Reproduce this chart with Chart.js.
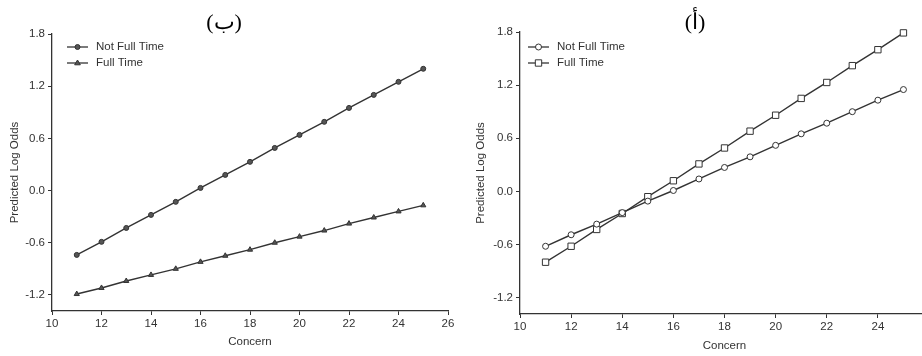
<!DOCTYPE html>
<html>
<head>
<meta charset="utf-8">
<script src="https://cdn.jsdelivr.net/npm/chart.js@4.4.0/dist/chart.umd.min.js"></script>
<style>
    html, body { margin: 0; padding: 0; background: #fff; overflow: hidden; width: 922px; height: 356px; }
    .panel { position: absolute; top: 0; height: 356px; }
    #leftPanel { left: 0; width: 461px; }
    #rightPanel { left: 461px; width: 496px; }
</style>
</head>
<body>
<div class="panel" id="leftPanel"><canvas id="leftChart"></canvas></div>
<div class="panel" id="rightPanel"><canvas id="rightChart"></canvas></div>

<script>
// concern values on the x axis
var concern = [11, 12, 13, 14, 15, 16, 17, 18, 19, 20, 21, 22, 23, 24, 25];

// panel (ب) - left
var leftNotFull = [-0.74, -0.59, -0.43, -0.28, -0.13, 0.03, 0.18, 0.33, 0.49, 0.64, 0.79, 0.95, 1.10, 1.25, 1.40];
var leftFull = [-1.19, -1.12, -1.04, -0.97, -0.90, -0.82, -0.75, -0.68, -0.60, -0.53, -0.46, -0.38, -0.31, -0.24, -0.17];

// panel (أ) - right
var rightNotFull = [-0.62, -0.49, -0.37, -0.24, -0.11, 0.01, 0.14, 0.27, 0.39, 0.52, 0.65, 0.77, 0.90, 1.03, 1.15];
var rightFull = [-0.80, -0.62, -0.43, -0.25, -0.06, 0.12, 0.31, 0.49, 0.68, 0.86, 1.05, 1.23, 1.42, 1.60, 1.79];

var seriesNames = ["Not Full Time", "Full Time"];
var xTicks = [10, 12, 14, 16, 18, 20, 22, 24, 26];
var yTicks = [-1.2, -0.6, 0.0, 0.6, 1.2, 1.8];

var ink = "#333";
var textColor = "#333";
var sans = "'Liberation Sans', Arial, sans-serif";

function toPoints(values) {
    var pts = [];
    for (var i = 0; i < concern.length; i++) {
        pts.push({ x: concern[i], y: values[i] });
    }
    return pts;
}

function drawMarker(ctx, style, r, x, y, fill) {
    ctx.save();
    ctx.beginPath();
    if (style === "circle") {
        ctx.arc(x, y, r, 0, Math.PI * 2);
    } else if (style === "triangle") {
        ctx.moveTo(x, y - r);
        ctx.lineTo(x + r * 0.95, y + r * 0.6);
        ctx.lineTo(x - r * 0.95, y + r * 0.6);
        ctx.closePath();
    } else {
        var s = r * Math.SQRT1_2;
        ctx.rect(x - s, y - s, s * 2, s * 2);
    }
    ctx.fillStyle = fill;
    ctx.fill();
    ctx.lineWidth = 1;
    ctx.strokeStyle = ink;
    ctx.stroke();
    ctx.restore();
}

// legend drawn inside the plot, line sample with marker in the middle
var insideLegend = {
    id: "insideLegend",
    afterDraw: function (chart, args, opts) {
        var ctx = chart.ctx;
        var area = chart.chartArea;
        chart.data.datasets.forEach(function (ds, i) {
            var y = area.top + opts.top + i * 16;
            var x0 = area.left + opts.left;
            ctx.save();
            ctx.strokeStyle = ink;
            ctx.lineWidth = 1.3;
            ctx.beginPath();
            ctx.moveTo(x0, y);
            ctx.lineTo(x0 + 21, y);
            ctx.stroke();
            ctx.restore();
            drawMarker(ctx, ds.pointStyle, ds.pointRadius, x0 + 10.5, y, ds.pointBackgroundColor);
            ctx.save();
            ctx.fillStyle = textColor;
            ctx.font = "11.5px " + sans;
            ctx.textBaseline = "middle";
            ctx.fillText(ds.label, x0 + opts.gap, y);
            ctx.restore();
        });
    }
};

function makeDataset(label, values, style, radius, fill) {
    return {
        label: label,
        data: toPoints(values),
        borderColor: ink,
        borderWidth: 1.4,
        tension: 0,
        clip: false,
        pointStyle: style,
        pointRadius: radius,
        pointHoverRadius: radius,
        pointBackgroundColor: fill,
        pointBorderColor: ink,
        pointBorderWidth: 1
    };
}

function makeChart(canvasId, label, datasets, cfg) {
    var ctx = document.getElementById(canvasId).getContext("2d");
    return new Chart(ctx, {
        type: "line",
        data: { datasets: datasets },
        options: {
            responsive: true,
            maintainAspectRatio: false,
            animation: false,
            layout: { padding: { top: 0, right: cfg.padRight, bottom: 0, left: 0 } },
            plugins: {
                legend: { display: false },
                tooltip: { enabled: false },
                title: {
                    display: true,
                    text: label,
                    color: "#000",
                    font: { family: "'Liberation Serif', 'DejaVu Serif', serif", size: 22, weight: "normal", lineHeight: cfg.titleLine },
                    padding: { top: cfg.titleTop, bottom: 0 }
                },
                insideLegend: cfg.legend
            },
            scales: {
                x: {
                    type: "linear",
                    min: 10,
                    max: 26,
                    afterBuildTicks: function (scale) {
                        scale.ticks = xTicks.map(function (v) { return { value: v }; });
                    },
                    afterFit: function (scale) { scale.height = cfg.xHeight; },
                    border: { display: true, color: ink, width: 1.3 },
                    grid: { display: true, drawOnChartArea: false, drawTicks: true, tickLength: 4, color: ink },
                    ticks: { color: textColor, font: { family: sans, size: 11.5 }, padding: 2, maxRotation: 0 },
                    title: {
                        display: true,
                        text: "Concern",
                        color: textColor,
                        font: { family: sans, size: 11.5 },
                        padding: { top: 0, bottom: cfg.xTitlePad }
                    }
                },
                y: {
                    type: "linear",
                    min: -1.385,
                    max: 1.8,
                    afterBuildTicks: function (scale) {
                        scale.ticks = yTicks.map(function (v) { return { value: v }; });
                    },
                    afterFit: function (scale) { scale.width = cfg.yWidth; },
                    border: { display: true, color: ink, width: 1.3 },
                    grid: { display: true, drawOnChartArea: false, drawTicks: true, tickLength: 4, color: ink },
                    ticks: {
                        color: textColor,
                        font: { family: sans, size: 11.5 },
                        padding: 3,
                        callback: function (v) { return Number(v).toFixed(1); }
                    },
                    title: {
                        display: true,
                        text: "Predicted Log Odds",
                        color: textColor,
                        font: { family: sans, size: 11.5 },
                        padding: { top: cfg.yTitlePad, bottom: 0 }
                    }
                }
            }
        },
        plugins: [insideLegend]
    });
}

makeChart("leftChart", "(ب)", [
    makeDataset(seriesNames[0], leftNotFull, "circle", 2.5, "#555"),
    makeDataset(seriesNames[1], leftFull, "triangle", 3, "#555")
], {
    padRight: 13, titleTop: 12, titleLine: 1, xHeight: 45, yWidth: 52, xTitlePad: 7, yTitlePad: 8,
    legend: { left: 15, top: 13, gap: 29 }
});

makeChart("rightChart", "(أ)", [
    makeDataset(seriesNames[0], rightNotFull, "circle", 3, "#fff"),
    makeDataset(seriesNames[1], rightFull, "rect", 4.5, "#fff")
], {
    padRight: 28, titleTop: 14.4, titleLine: 0.8, xHeight: 42, yWidth: 59, xTitlePad: 3, yTitlePad: 13,
    legend: { left: 8, top: 15, gap: 29 }
});
</script>
</body>
</html>
